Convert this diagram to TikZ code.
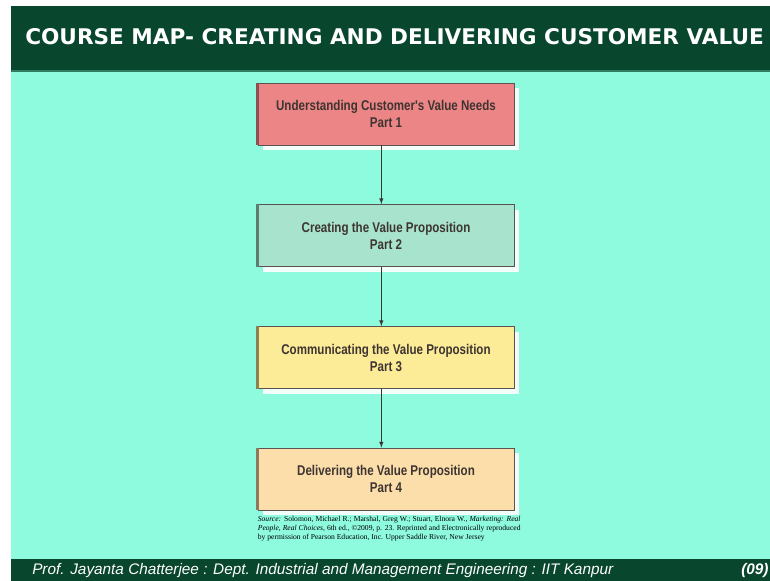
\documentclass[tikz,border=0pt]{standalone}
\usepackage{fontspec}
\setmainfont{Liberation Sans}
\newfontfamily\titlefont{DejaVu Sans}
\newfontfamily\boxfont[FakeStretch=0.82]{Liberation Sans}
\newfontfamily\srcfont{Liberation Serif}
\usetikzlibrary{positioning}
\usetikzlibrary{shadows}

\definecolor{bgcyan}{RGB}{142,250,222}
\definecolor{bargreen}{RGB}{8,70,46}
\definecolor{boxred}{RGB}{236,134,134}
\definecolor{boxgreen}{RGB}{168,228,205}
\definecolor{boxyellow}{RGB}{252,236,152}
\definecolor{boxorange}{RGB}{252,222,170}
\definecolor{boxtext}{RGB}{62,52,50}

\begin{document}
\begin{tikzpicture}[x=0.75pt,y=-0.75pt,
    stage/.style={draw=boxtext!85, line width=0.6pt, minimum width=192pt, minimum height=46.5pt,
      align=center, inner sep=0pt, text=boxtext, font=\boxfont\bfseries\fontsize{10.6}{12.8}\selectfont,
      drop shadow={shadow xshift=4pt, shadow yshift=-4pt, fill=white, opacity=0.9}},
    arrow/.style={->, >=latex, draw=boxtext, line width=0.5pt},
    leftedge/.style={line width=2pt}]
          % Background
          \fill[white] (0,0) rectangle (770,581);
          \fill[bgcyan] (11,70) rectangle (770,559);
          \fill[bargreen] (11,6) rectangle (770,70);
          \fill[bargreen!70!bgcyan] (11,70) rectangle (770,72);
          \fill[bargreen] (11,559) rectangle (770,581);
          \useasboundingbox (0,0) rectangle (770,581);

          % Titles
          \node[anchor=west, text=white, font=\titlefont\bfseries\fontsize{16.2}{19}\selectfont, inner sep=0pt] (title) at (25,37) {COURSE MAP- CREATING AND DELIVERING CUSTOMER VALUE};
          \node[anchor=base west, text=white, font=\itshape\fontsize{11.5}{13}\selectfont, inner sep=0pt] (footer) at (32,574) {Prof. Jayanta Chatterjee : Dept. Industrial and Management Engineering : IIT Kanpur};
          \node[anchor=base west, text=white, font=\bfseries\itshape\fontsize{11.5}{13}\selectfont, inner sep=0pt] (page) at (741,574) {(09)};

          % Nodes
          \node[stage, fill=boxred] (b1) at (386,114) {Understanding Customer's Value Needs\\Part 1};
          \node[stage, fill=boxgreen] (b2) at (386,235.5) {Creating the Value Proposition\\Part 2};
          \node[stage, fill=boxyellow] (b3) at (386,357.5) {Communicating the Value Proposition\\Part 3};
          \node[stage, fill=boxorange] (b4) at (386,479) {Delivering the Value Proposition\\Part 4};
          \node[below=4pt of b4.south west, anchor=north west, text width=197pt, align=justify, inner sep=0pt,
                font=\srcfont\fontsize{5.7}{6.8}\selectfont, text=black] (src)
                {\textit{Source:} Solomon, Michael R.; Marshal, Greg W.; Stuart, Elnora W., \textit{Marketing: Real}\linebreak
                 \textit{People, Real Choices}, 6th ed., \copyright2009, p. 23. Reprinted and Electronically reproduced\linebreak
                 by permission of Pearson Education, Inc. Upper Saddle River, New Jersey};

          % Left edges
          \draw[leftedge, draw=boxred!60!black] (b1.north west) -- (b1.south west);
          \draw[leftedge, draw=boxgreen!55!black] (b2.north west) -- (b2.south west);
          \draw[leftedge, draw=boxyellow!55!black] (b3.north west) -- (b3.south west);
          \draw[leftedge, draw=boxorange!55!black] (b4.north west) -- (b4.south west);

          % Arrows
          \draw[arrow] ([xshift=-3.5pt]b1.south) -- ([xshift=-3.5pt]b2.north);
          \draw[arrow] ([xshift=-3.5pt]b2.south) -- ([xshift=-3.5pt]b3.north);
          \draw[arrow] ([xshift=-3.5pt]b3.south) -- ([xshift=-3.5pt]b4.north);
        \end{tikzpicture}
\end{document}
